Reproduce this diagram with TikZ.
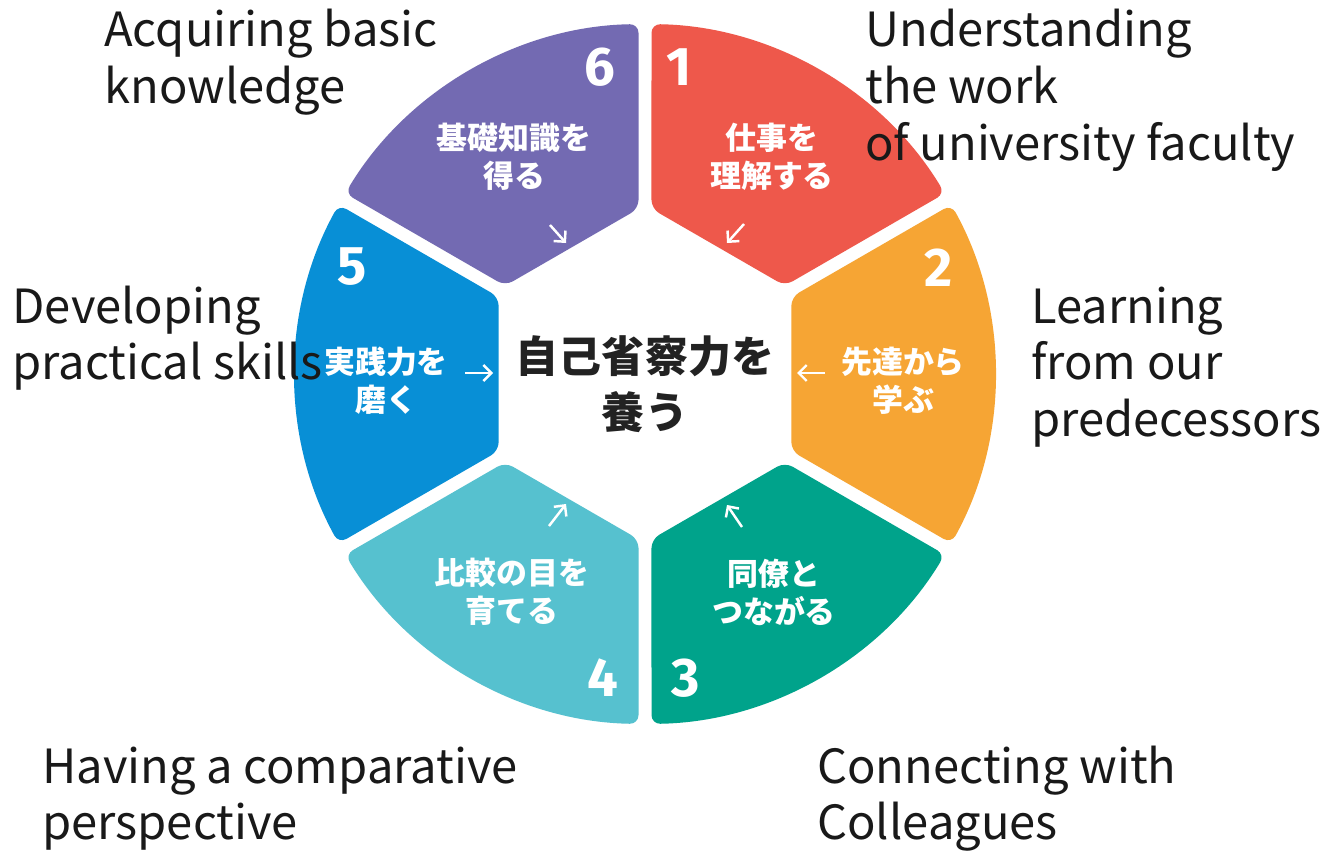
\documentclass[tikz,border=0pt]{standalone}
\usepackage{fontspec}
\usetikzlibrary{arrows.meta}
\newfontfamily\jp{Noto Sans CJK JP}
\newfontfamily\numf{Fira Sans}
\definecolor{c1}{HTML}{EE584B}
\definecolor{c2}{HTML}{F6A534}
\definecolor{c3}{HTML}{00A38B}
\definecolor{c4}{HTML}{56C1CF}
\definecolor{c5}{HTML}{088FD6}
\definecolor{c6}{HTML}{736AB2}
\definecolor{ink}{HTML}{222222}
\newcommand{\mylines}[1]{\vtop{\baselineskip=32.4pt\lineskiplimit=-100pt #1}}
\tikzset{
  eng/.style={anchor=base west, inner sep=0pt, font=\jp\fontsize{26.8}{32.4}\selectfont, text=black!90},
  seglabel/.style={align=center, inner sep=0pt, text=white, font=\jp\bfseries\fontsize{17.6}{21.6}\selectfont},
  segnum/.style={inner sep=0pt, text=white, font=\numf\bfseries\fontsize{31}{31}\selectfont},
  centerlabel/.style={align=center, inner sep=0pt, text=ink, font=\jp\bfseries\fontsize{24.5}{31.9}\selectfont},
  flowarrow/.style={draw=white, line width=1.4pt, -{Straight Barb[length=4.5pt,width=9pt]}}
}
\begin{document}
\begin{tikzpicture}[x=0.02cm,y=0.02cm]
\useasboundingbox[fill=white] (0,0) rectangle (1329,-852);

% ring segments
\begin{scope}[shift={(645,-374)}]
\foreach \a/\c in {30/c1, -30/c2, -90/c3, -150/c4, 150/c5, 90/c6}{
  \fill[\c, rounded corners=5pt] ({\a+1.064}:350) arc[start angle={\a+1.064}, end angle={\a+58.936}, radius=350]
     -- ({\a+57.75}:165.38) -- ({\a+2.25}:165.38) -- cycle;
}
\end{scope}

% numbers
\node[segnum] (n1) at (679,-67) {1};
\node[segnum] (n2) at (939,-268) {2};
\node[segnum] (n3) at (686,-678) {3};
\node[segnum] (n4) at (603,-678) {4};
\node[segnum] (n5) at (352,-267) {5};
\node[segnum] (n6) at (600,-67) {6};

% segment labels
\node[seglabel] (l1) at (772,-157) {仕事を\\理解する};
\node[seglabel] (l2) at (903,-381) {先達から\\学ぶ};
\node[seglabel] (l3) at (774,-592) {同僚と\\つながる};
\node[seglabel] (l4) at (512,-592) {比較の目を\\育てる};
\node[seglabel] (l5) at (386,-381) {実践力を\\磨く};
\node[seglabel] (l6) at (514,-157) {基礎知識を\\得る};

% centre
\node[centerlabel] (ctr) at (645,-384) {自己省察力を\\養う};

% arrows
\coordinate (a6s) at (550,-225); \coordinate (a6e) at (566,-243);
\coordinate (a1s) at (744,-224); \coordinate (a1e) at (727,-243);
\coordinate (a2s) at (825,-373); \coordinate (a2e) at (797,-373);
\coordinate (a3s) at (742,-527); \coordinate (a3e) at (727,-505);
\coordinate (a4s) at (549,-526); \coordinate (a4e) at (566,-504);
\coordinate (a5s) at (465,-373); \coordinate (a5e) at (493,-373);
\draw[flowarrow] (a6s) -- (a6e);
\draw[flowarrow] (a1s) -- (a1e);
\draw[flowarrow] (a2s) -- (a2e);
\draw[flowarrow] (a3s) -- (a3e);
\draw[flowarrow] (a4s) -- (a4e);
\draw[flowarrow] (a5s) -- (a5e);

% English labels
\node[eng] (e6) at (104,-47) {\mylines{\hbox{Acquiring basic}\hbox{knowledge}}};
\node[eng] (e1) at (865,-47) {\mylines{\hbox{Understanding}\hbox{the work}\hbox{of university faculty}}};
\node[eng] (e5) at (12,-323) {\mylines{\hbox{Developing}\hbox{practical skills}}};
\node[eng] (e2) at (1031,-323) {\mylines{\hbox{Learning}\hbox{from our}\hbox{predecessors}}};
\node[eng] (e4) at (42,-783) {\mylines{\hbox{Having a comparative}\hbox{perspective}}};
\node[eng] (e3) at (817,-783) {\mylines{\hbox{Connecting with}\hbox{Colleagues}}};
\end{tikzpicture}
\end{document}
